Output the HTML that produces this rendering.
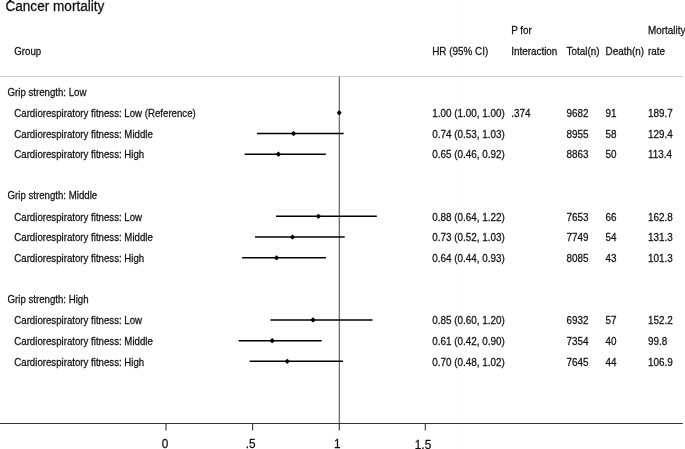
<!DOCTYPE html>
<html><head><meta charset="utf-8"><style>
html,body{margin:0;padding:0;background:#fff;}
svg{display:block;will-change:transform;}
text{font-family:"Liberation Sans",sans-serif;fill:#111;stroke:#111;stroke-width:0.25px;}
</style></head><body>
<svg width="685" height="449" viewBox="0 0 685 449">
<line x1="461.5" y1="0" x2="461.5" y2="449" stroke="#fcfcfc" stroke-width="1"/>
<line x1="223.5" y1="0" x2="223.5" y2="449" stroke="#fcfcfc" stroke-width="1"/>
<text transform="translate(5.40 10.70) scale(0.9714 1)" font-size="14.0">Cancer mortality</text>
<text transform="translate(14.30 54.60) scale(0.9298 1)" font-size="10.4">Group</text>
<text transform="translate(432.20 54.60) scale(0.9519 1)" font-size="10.4">HR (95% CI)</text>
<text transform="translate(511.20 34.10) scale(0.9519 1)" font-size="10.4">P for</text>
<text transform="translate(511.20 54.60) scale(0.9519 1)" font-size="10.4">Interaction</text>
<text transform="translate(566.50 54.60) scale(0.9519 1)" font-size="10.4">Total(n)</text>
<text transform="translate(605.50 54.60) scale(0.9519 1)" font-size="10.4">Death(n)</text>
<text transform="translate(648.00 34.10) scale(0.9519 1)" font-size="10.4">Mortality</text>
<text transform="translate(648.00 54.60) scale(0.9519 1)" font-size="10.4">rate</text>
<rect x="9.1" y="0" width="2.1" height="1.1" fill="#000"/>
<line x1="0" y1="76.5" x2="683" y2="76.5" stroke="#d2d2d2" stroke-width="1.1"/>
<line x1="339.3" y1="76.5" x2="339.3" y2="423.5" stroke="#555" stroke-width="1.1"/>
<line x1="0" y1="423.5" x2="682.8" y2="423.5" stroke="#333" stroke-width="1.2"/>
<line x1="166.0" y1="423.5" x2="166.0" y2="430.5" stroke="#333" stroke-width="1.1"/>
<line x1="252.6" y1="423.5" x2="252.6" y2="430.5" stroke="#333" stroke-width="1.1"/>
<line x1="339.3" y1="423.5" x2="339.3" y2="430.5" stroke="#333" stroke-width="1.1"/>
<line x1="425.3" y1="423.5" x2="425.3" y2="430.5" stroke="#333" stroke-width="1.1"/>
<text transform="translate(165.00 447.50) scale(0.9672 1)" font-size="12.2" text-anchor="middle">0</text>
<text transform="translate(250.60 447.50) scale(0.9672 1)" font-size="12.2" text-anchor="middle">.5</text>
<text transform="translate(337.30 447.50) scale(0.9672 1)" font-size="12.2" text-anchor="middle">1</text>
<text transform="translate(423.00 448.80) scale(0.9672 1)" font-size="12.2" text-anchor="middle">1.5</text>
<text transform="translate(7.50 95.70) scale(0.9298 1)" font-size="10.4">Grip strength: Low</text>
<text transform="translate(14.30 116.92) scale(0.9298 1)" font-size="10.4">Cardiorespiratory fitness: Low (Reference)</text>
<text transform="translate(432.20 116.92) scale(0.9519 1)" font-size="10.4">1.00 (1.00, 1.00)</text>
<text transform="translate(511.20 116.92) scale(0.9519 1)" font-size="10.4">.374</text>
<text transform="translate(566.50 116.92) scale(0.9519 1)" font-size="10.4">9682</text>
<text transform="translate(605.50 116.92) scale(0.9519 1)" font-size="10.4">91</text>
<text transform="translate(648.00 116.92) scale(0.9519 1)" font-size="10.4">189.7</text>
<path d="M336.80 112.72Q337.76 111.19 339.20 110.17Q340.64 111.19 341.60 112.72Q340.64 114.25 339.20 115.27Q337.76 114.25 336.80 112.72Z" fill="#000"/>
<text transform="translate(14.30 137.64) scale(0.9298 1)" font-size="10.4">Cardiorespiratory fitness: Middle</text>
<text transform="translate(432.20 137.64) scale(0.9519 1)" font-size="10.4">0.74 (0.53, 1.03)</text>
<text transform="translate(566.50 137.64) scale(0.9519 1)" font-size="10.4">8955</text>
<text transform="translate(605.50 137.64) scale(0.9519 1)" font-size="10.4">58</text>
<text transform="translate(648.00 137.64) scale(0.9519 1)" font-size="10.4">129.4</text>
<line x1="257.0" y1="133.44" x2="343.7" y2="133.44" stroke="#000" stroke-width="1.5"/>
<path d="M291.10 133.44Q292.06 131.91 293.50 130.89Q294.94 131.91 295.90 133.44Q294.94 134.97 293.50 135.99Q292.06 134.97 291.10 133.44Z" fill="#000"/>
<text transform="translate(14.30 158.36) scale(0.9298 1)" font-size="10.4">Cardiorespiratory fitness: High</text>
<text transform="translate(432.20 158.36) scale(0.9519 1)" font-size="10.4">0.65 (0.46, 0.92)</text>
<text transform="translate(566.50 158.36) scale(0.9519 1)" font-size="10.4">8863</text>
<text transform="translate(605.50 158.36) scale(0.9519 1)" font-size="10.4">50</text>
<text transform="translate(648.00 158.36) scale(0.9519 1)" font-size="10.4">113.4</text>
<line x1="244.6" y1="154.16" x2="325.8" y2="154.16" stroke="#000" stroke-width="1.5"/>
<path d="M276.00 154.16Q276.96 152.63 278.40 151.61Q279.84 152.63 280.80 154.16Q279.84 155.69 278.40 156.71Q276.96 155.69 276.00 154.16Z" fill="#000"/>
<text transform="translate(7.50 199.30) scale(0.9298 1)" font-size="10.4">Grip strength: Middle</text>
<text transform="translate(14.30 220.52) scale(0.9298 1)" font-size="10.4">Cardiorespiratory fitness: Low</text>
<text transform="translate(432.20 220.52) scale(0.9519 1)" font-size="10.4">0.88 (0.64, 1.22)</text>
<text transform="translate(566.50 220.52) scale(0.9519 1)" font-size="10.4">7653</text>
<text transform="translate(605.50 220.52) scale(0.9519 1)" font-size="10.4">66</text>
<text transform="translate(648.00 220.52) scale(0.9519 1)" font-size="10.4">162.8</text>
<line x1="276.0" y1="216.32" x2="376.8" y2="216.32" stroke="#000" stroke-width="1.5"/>
<path d="M316.05 216.32Q317.01 214.79 318.45 213.77Q319.89 214.79 320.85 216.32Q319.89 217.85 318.45 218.87Q317.01 217.85 316.05 216.32Z" fill="#000"/>
<text transform="translate(14.30 241.24) scale(0.9298 1)" font-size="10.4">Cardiorespiratory fitness: Middle</text>
<text transform="translate(432.20 241.24) scale(0.9519 1)" font-size="10.4">0.73 (0.52, 1.03)</text>
<text transform="translate(566.50 241.24) scale(0.9519 1)" font-size="10.4">7749</text>
<text transform="translate(605.50 241.24) scale(0.9519 1)" font-size="10.4">54</text>
<text transform="translate(648.00 241.24) scale(0.9519 1)" font-size="10.4">131.3</text>
<line x1="255.0" y1="237.04" x2="344.7" y2="237.04" stroke="#000" stroke-width="1.5"/>
<path d="M290.04 237.04Q291.00 235.51 292.44 234.49Q293.88 235.51 294.84 237.04Q293.88 238.57 292.44 239.59Q291.00 238.57 290.04 237.04Z" fill="#000"/>
<text transform="translate(14.30 261.96) scale(0.9298 1)" font-size="10.4">Cardiorespiratory fitness: High</text>
<text transform="translate(432.20 261.96) scale(0.9519 1)" font-size="10.4">0.64 (0.44, 0.93)</text>
<text transform="translate(566.50 261.96) scale(0.9519 1)" font-size="10.4">8085</text>
<text transform="translate(605.50 261.96) scale(0.9519 1)" font-size="10.4">43</text>
<text transform="translate(648.00 261.96) scale(0.9519 1)" font-size="10.4">101.3</text>
<line x1="242.2" y1="257.76" x2="326.0" y2="257.76" stroke="#000" stroke-width="1.5"/>
<path d="M274.20 257.76Q275.16 256.23 276.60 255.21Q278.04 256.23 279.00 257.76Q278.04 259.29 276.60 260.31Q275.16 259.29 274.20 257.76Z" fill="#000"/>
<text transform="translate(7.50 302.90) scale(0.9298 1)" font-size="10.4">Grip strength: High</text>
<text transform="translate(14.30 324.12) scale(0.9298 1)" font-size="10.4">Cardiorespiratory fitness: Low</text>
<text transform="translate(432.20 324.12) scale(0.9519 1)" font-size="10.4">0.85 (0.60, 1.20)</text>
<text transform="translate(566.50 324.12) scale(0.9519 1)" font-size="10.4">6932</text>
<text transform="translate(605.50 324.12) scale(0.9519 1)" font-size="10.4">57</text>
<text transform="translate(648.00 324.12) scale(0.9519 1)" font-size="10.4">152.2</text>
<line x1="270.4" y1="319.92" x2="372.5" y2="319.92" stroke="#000" stroke-width="1.5"/>
<path d="M310.60 319.92Q311.56 318.39 313.00 317.37Q314.44 318.39 315.40 319.92Q314.44 321.45 313.00 322.47Q311.56 321.45 310.60 319.92Z" fill="#000"/>
<text transform="translate(14.30 344.84) scale(0.9298 1)" font-size="10.4">Cardiorespiratory fitness: Middle</text>
<text transform="translate(432.20 344.84) scale(0.9519 1)" font-size="10.4">0.61 (0.42, 0.90)</text>
<text transform="translate(566.50 344.84) scale(0.9519 1)" font-size="10.4">7354</text>
<text transform="translate(605.50 344.84) scale(0.9519 1)" font-size="10.4">40</text>
<text transform="translate(648.00 344.84) scale(0.9519 1)" font-size="10.4">99.8</text>
<line x1="238.6" y1="340.64" x2="321.7" y2="340.64" stroke="#000" stroke-width="1.5"/>
<path d="M269.80 340.64Q270.76 339.11 272.20 338.09Q273.64 339.11 274.60 340.64Q273.64 342.17 272.20 343.19Q270.76 342.17 269.80 340.64Z" fill="#000"/>
<text transform="translate(14.30 365.56) scale(0.9298 1)" font-size="10.4">Cardiorespiratory fitness: High</text>
<text transform="translate(432.20 365.56) scale(0.9519 1)" font-size="10.4">0.70 (0.48, 1.02)</text>
<text transform="translate(566.50 365.56) scale(0.9519 1)" font-size="10.4">7645</text>
<text transform="translate(605.50 365.56) scale(0.9519 1)" font-size="10.4">44</text>
<text transform="translate(648.00 365.56) scale(0.9519 1)" font-size="10.4">106.9</text>
<line x1="249.6" y1="361.36" x2="343.1" y2="361.36" stroke="#000" stroke-width="1.5"/>
<path d="M284.84 361.36Q285.80 359.83 287.24 358.81Q288.68 359.83 289.64 361.36Q288.68 362.89 287.24 363.91Q285.80 362.89 284.84 361.36Z" fill="#000"/>
</svg>
</body></html>
